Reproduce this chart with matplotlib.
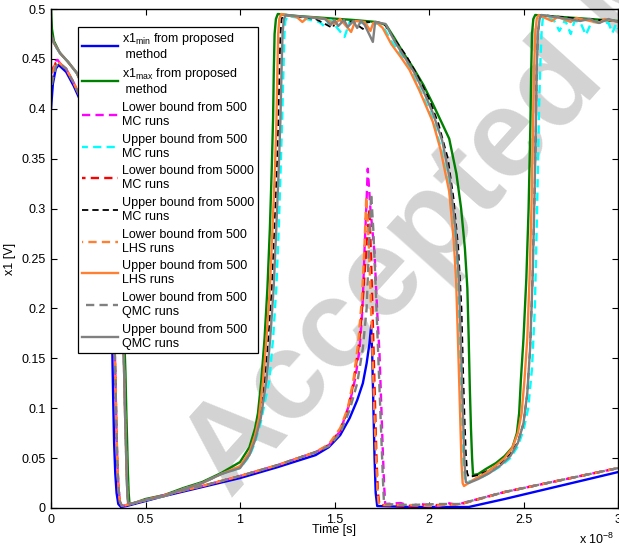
import matplotlib
matplotlib.use('Agg')
import matplotlib.pyplot as plt
from matplotlib.ticker import FixedLocator, FixedFormatter

plt.rcParams['font.family'] = ['Liberation Sans', 'DejaVu Sans']
plt.rcParams['mathtext.default'] = 'regular'
plt.rcParams['font.size'] = 9

# time in units of 1e-8 s, voltage in V
# --- lower curves ---
blue_t = [0, 0.01, 0.025, 0.04, 0.08, 0.12, 0.17, 0.21, 0.24, 0.265, 0.285, 0.30, 0.31, 0.317,
          0.322, 0.326, 0.330, 0.334, 0.340, 0.347, 0.356, 0.37, 0.40, 0.6, 0.8, 1.0, 1.2, 1.4,
          1.47, 1.53, 1.58, 1.62, 1.65, 1.67, 1.685, 1.694, 1.700, 1.706, 1.712, 1.718, 1.726,
          1.9, 2.1, 2.21, 2.4, 2.6, 2.8, 3.0]
blue_v = [0.40, 0.425, 0.440, 0.444, 0.437, 0.423, 0.402, 0.380, 0.358, 0.336, 0.310, 0.285, 0.262,
          0.230, 0.190, 0.140, 0.100, 0.065, 0.035, 0.015, 0.004, 0.001, 0.002, 0.012, 0.021, 0.030,
          0.041, 0.053, 0.061, 0.073, 0.090, 0.108, 0.125, 0.145, 0.165, 0.183, 0.150, 0.100, 0.050,
          0.015, 0.002, 0.001, 0.001, 0.001, 0.009, 0.018, 0.027, 0.036]

# shared first cycle of the MC/LHS/QMC lower bounds (after the first few points)
low_head_t = [0.05, 0.08, 0.12, 0.17, 0.21, 0.24, 0.265, 0.285, 0.30, 0.315, 0.325, 0.332, 0.337,
              0.342, 0.346, 0.351, 0.357, 0.365, 0.375, 0.40, 0.6, 0.8, 1.0, 1.2, 1.4]
low_head_v = [0.445, 0.440, 0.426, 0.405, 0.383, 0.362, 0.340, 0.316, 0.292, 0.265, 0.235, 0.200,
              0.160, 0.120, 0.080, 0.045, 0.020, 0.006, 0.002, 0.003, 0.013, 0.022, 0.032, 0.043, 0.056]
low_tail_t = [2.4, 2.6, 2.8, 3.0]
low_tail_v = [0.016, 0.024, 0.032, 0.040]

mc500_lo_t = [0, 0.01, 0.025, 0.035] + low_head_t + [1.47, 1.53, 1.58, 1.61, 1.632, 1.648, 1.659, 1.668,
              1.676, 1.69, 1.712, 1.725, 1.738, 1.748, 1.755, 1.762, 1.768, 1.85, 1.9, 1.95, 2.05,
              2.1, 2.15, 2.18] + low_tail_t
mc500_lo_v = [0.435, 0.440, 0.448, 0.449] + low_head_v + [0.063, 0.077, 0.105, 0.130, 0.158, 0.200, 0.259,
              0.300, 0.340, 0.300, 0.255, 0.200, 0.155, 0.100, 0.060, 0.025, 0.004, 0.005, 0.002,
              0.004, 0.002, 0.005, 0.003, 0.005] + low_tail_v

mc5000_lo_t = [0, 0.01, 0.025, 0.035] + low_head_t + [1.47, 1.53, 1.57, 1.60, 1.63, 1.65, 1.665, 1.685,
               1.695, 1.705, 1.715, 1.722, 1.73, 1.738, 1.9, 2.05, 2.17] + low_tail_t
mc5000_lo_v = [0.430, 0.438, 0.446, 0.447] + low_head_v + [0.063, 0.078, 0.098, 0.125, 0.165, 0.210,
               0.250, 0.300, 0.240, 0.170, 0.100, 0.050, 0.015, 0.003, 0.002, 0.003, 0.004] + low_tail_v

lhs_lo_t = [0, 0.01, 0.025, 0.035] + low_head_t + [1.47, 1.53, 1.57, 1.60, 1.625, 1.645, 1.658, 1.668,
            1.68, 1.69, 1.70, 1.71, 1.72, 1.728, 1.735, 1.9, 2.0, 2.17] + low_tail_t
lhs_lo_v = [0.430, 0.437, 0.446, 0.447] + low_head_v + [0.064, 0.080, 0.100, 0.128, 0.165, 0.210, 0.260,
            0.312, 0.270, 0.220, 0.160, 0.100, 0.050, 0.015, 0.003, 0.003, 0.002, 0.004] + low_tail_v

qmc_lo_t = [0, 0.01, 0.025, 0.035] + low_head_t + [1.47, 1.53, 1.58, 1.62, 1.65, 1.67, 1.682, 1.694,
            1.705, 1.716, 1.728, 1.74, 1.75, 1.757, 1.762, 1.9, 2.05, 2.16] + low_tail_t
qmc_lo_v = [0.420, 0.430, 0.442, 0.445] + low_head_v + [0.062, 0.075, 0.098, 0.125, 0.160, 0.200, 0.260,
            0.315, 0.280, 0.230, 0.170, 0.110, 0.060, 0.025, 0.004, 0.003, 0.004, 0.004] + low_tail_v

# --- upper curves ---
up_head_t = [0.047, 0.09, 0.136, 0.17, 0.206, 0.24, 0.276, 0.305, 0.329, 0.348, 0.364, 0.374, 0.382,
             0.387, 0.391, 0.396, 0.40, 0.404, 0.408, 0.42, 0.5, 0.6, 0.7, 0.8, 0.9]
up_head_v = [0.456, 0.447, 0.436, 0.422, 0.402, 0.380, 0.352, 0.325, 0.300, 0.268, 0.235, 0.200, 0.168,
             0.135, 0.100, 0.065, 0.035, 0.015, 0.005, 0.004, 0.008, 0.012, 0.019, 0.025, 0.034]

green_t = [0, 0.005, 0.015] + [0.047, 0.09, 0.136, 0.17, 0.206, 0.24, 0.276, 0.305, 0.332, 0.352, 0.369,
           0.380, 0.388, 0.394, 0.398, 0.403, 0.407, 0.411, 0.415, 0.425, 0.5, 0.6, 0.7, 0.8, 0.9] + [
           1.0, 1.05, 1.08, 1.095, 1.113, 1.13, 1.145, 1.158, 1.168, 1.175, 1.179, 1.183, 1.19, 1.2,
           1.3, 1.45, 1.6, 1.72, 1.773, 1.82, 1.861, 1.92, 1.97, 2.02, 2.07, 2.107, 2.145, 2.17, 2.19,
           2.203, 2.21, 2.216, 2.222, 2.228, 2.233, 2.26, 2.3, 2.354, 2.40, 2.442, 2.465, 2.477, 2.486,
           2.50, 2.515, 2.527, 2.536, 2.541, 2.545, 2.552, 2.562, 2.7, 2.85, 3.0]
green_v = [0.500, 0.480, 0.468] + [0.456, 0.447, 0.436, 0.422, 0.402, 0.380, 0.352, 0.325, 0.300, 0.268,
           0.235, 0.200, 0.168, 0.135, 0.100, 0.065, 0.035, 0.015, 0.005, 0.004, 0.009, 0.013, 0.020,
           0.026, 0.035] + [
           0.046, 0.061, 0.080, 0.095, 0.128, 0.170, 0.220, 0.280, 0.340, 0.390, 0.440, 0.475, 0.490,
           0.495, 0.493, 0.491, 0.489, 0.487, 0.484, 0.470, 0.457, 0.440, 0.424, 0.405, 0.385, 0.370,
           0.335, 0.300, 0.260, 0.220, 0.170, 0.120, 0.080, 0.050, 0.033, 0.034, 0.039, 0.045, 0.052,
           0.061, 0.075, 0.095, 0.128, 0.170, 0.230, 0.300, 0.380, 0.440, 0.475, 0.490, 0.494, 0.492,
           0.490, 0.488]

mc500_up_t = [0, 0.015] + up_head_t + [1.0, 1.05, 1.08, 1.11, 1.155, 1.175, 1.192, 1.205, 1.215, 1.223,
              1.23, 1.235, 1.24, 1.25, 1.35, 1.42, 1.45, 1.48, 1.553, 1.58, 1.65, 1.75, 1.80, 1.85, 1.90,
              1.95, 2.02, 2.06, 2.107, 2.135, 2.15, 2.16, 2.168, 2.175, 2.182, 2.19, 2.20, 2.26, 2.32,
              2.38, 2.43, 2.47, 2.50, 2.525, 2.545, 2.56, 2.572, 2.582, 2.59, 2.596, 2.602, 2.62, 2.66,
              2.69, 2.72, 2.75, 2.77, 2.80, 2.83, 2.86, 2.95, 2.97, 2.99, 3.0]
mc500_up_v = [0.472, 0.465] + up_head_v + [0.040, 0.052, 0.066, 0.086, 0.128, 0.170, 0.220, 0.280, 0.340,
              0.390, 0.440, 0.475, 0.488, 0.493, 0.490, 0.487, 0.482, 0.489, 0.472, 0.487, 0.486, 0.485,
              0.468, 0.455, 0.440, 0.420, 0.390, 0.363, 0.322, 0.270, 0.230, 0.170, 0.120, 0.080, 0.045,
              0.028, 0.026, 0.029, 0.035, 0.042, 0.050, 0.062, 0.078, 0.100, 0.140, 0.200, 0.300, 0.400,
              0.450, 0.478, 0.490, 0.492, 0.489, 0.478, 0.489, 0.475, 0.488, 0.487, 0.474, 0.487, 0.486,
              0.476, 0.485, 0.480]

mc5000_up_t = [0, 0.015] + up_head_t + [1.0, 1.05, 1.08, 1.10, 1.13, 1.15, 1.168, 1.182, 1.195, 1.203,
               1.209, 1.214, 1.22, 1.23, 1.4, 1.49, 1.51, 1.60, 1.65, 1.67, 1.76, 1.82, 1.88, 1.94, 2.0,
               2.05, 2.10, 2.13, 2.155, 2.172, 2.18, 2.188, 2.195, 2.202, 2.21, 2.26, 2.32, 2.38, 2.43,
               2.47, 2.50, 2.52, 2.535, 2.548, 2.558, 2.565, 2.57, 2.576, 2.585, 2.595, 2.8, 3.0]
mc5000_up_v = [0.474, 0.466] + up_head_v + [0.041, 0.055, 0.071, 0.088, 0.128, 0.170, 0.220, 0.280, 0.340,
               0.390, 0.440, 0.475, 0.490, 0.494, 0.490, 0.481, 0.489, 0.487, 0.480, 0.487, 0.486, 0.469,
               0.453, 0.433, 0.410, 0.385, 0.350, 0.310, 0.260, 0.200, 0.140, 0.090, 0.055, 0.035, 0.031,
               0.033, 0.038, 0.045, 0.054, 0.066, 0.085, 0.115, 0.160, 0.230, 0.310, 0.380, 0.440, 0.475,
               0.490, 0.494, 0.490, 0.488]

lhs_up_t = [0, 0.015] + up_head_t + [1.0, 1.05, 1.08, 1.10, 1.122, 1.14, 1.158, 1.172, 1.185, 1.193,
            1.198, 1.202, 1.208, 1.218, 1.30, 1.33, 1.36, 1.45, 1.50, 1.53, 1.588, 1.61, 1.66, 1.69,
            1.705, 1.72, 1.755, 1.80, 1.85, 1.897, 1.95, 2.02, 2.06, 2.107, 2.13, 2.143, 2.153, 2.16,
            2.166, 2.172, 2.178, 2.185, 2.25, 2.30, 2.35, 2.40, 2.44, 2.47, 2.49, 2.505, 2.52, 2.532,
            2.542, 2.55, 2.556, 2.562, 2.57, 2.58, 2.65, 2.68, 2.75, 2.78, 2.9, 2.93, 3.0]
lhs_up_v = [0.474, 0.466] + up_head_v + [0.042, 0.056, 0.073, 0.090, 0.128, 0.170, 0.220, 0.280, 0.340,
            0.390, 0.440, 0.475, 0.490, 0.495, 0.492, 0.487, 0.492, 0.490, 0.485, 0.490, 0.477, 0.488,
            0.487, 0.478, 0.486, 0.487, 0.481, 0.465, 0.452, 0.439, 0.418, 0.387, 0.360, 0.317, 0.270,
            0.230, 0.170, 0.125, 0.085, 0.045, 0.025, 0.022, 0.030, 0.035, 0.042, 0.050, 0.060, 0.075,
            0.095, 0.128, 0.170, 0.230, 0.300, 0.380, 0.440, 0.475, 0.490, 0.494, 0.488, 0.492, 0.487,
            0.491, 0.486, 0.490, 0.487]

qmc_up_t = [0, 0.015] + up_head_t + [1.0, 1.05, 1.08, 1.11, 1.14, 1.16, 1.178, 1.192, 1.205, 1.214,
            1.22, 1.225, 1.232, 1.242, 1.35, 1.45, 1.48, 1.50, 1.52, 1.55, 1.57, 1.60, 1.62, 1.64, 1.66,
            1.703, 1.715, 1.77, 1.82, 1.87, 1.92, 1.97, 2.02, 2.07, 2.11, 2.14, 2.158, 2.168, 2.175,
            2.182, 2.188, 2.195, 2.21, 2.26, 2.32, 2.38, 2.43, 2.47, 2.50, 2.52, 2.535, 2.548, 2.558,
            2.565, 2.57, 2.576, 2.585, 2.595, 2.7, 2.8, 2.85, 2.9, 2.95, 3.0]
qmc_up_v = [0.475, 0.466] + up_head_v + [0.040, 0.053, 0.068, 0.090, 0.128, 0.170, 0.220, 0.280, 0.340,
            0.390, 0.440, 0.475, 0.490, 0.494, 0.492, 0.490, 0.484, 0.489, 0.483, 0.489, 0.482, 0.488,
            0.481, 0.488, 0.484, 0.467, 0.487, 0.485, 0.467, 0.452, 0.437, 0.418, 0.396, 0.368, 0.330,
            0.280, 0.230, 0.170, 0.120, 0.080, 0.045, 0.026, 0.025, 0.029, 0.035, 0.043, 0.052, 0.065,
            0.085, 0.115, 0.160, 0.230, 0.310, 0.380, 0.440, 0.475, 0.490, 0.494, 0.491, 0.488, 0.490,
            0.486, 0.490, 0.487]

xticks = [0, 0.5, 1, 1.5, 2, 2.5, 3]
xticklabels = ['0', '0.5', '1', '1.5', '2', '2.5', '3']
yticks = [0, 0.05, 0.1, 0.15, 0.2, 0.25, 0.3, 0.35, 0.4, 0.45, 0.5]
yticklabels = ['0', '0.05', '0.1', '0.15', '0.2', '0.25', '0.3', '0.35', '0.4', '0.45', '0.5']

fig = plt.figure(figsize=(6.19, 5.46), dpi=100)
ax = fig.add_axes([51/619, 38/546, 567/619, 499/546])

# watermark, behind the curves
ax.text(0.372, 0.085, 'Accepted Manuscript', transform=fig.transFigure, rotation=48,
        rotation_mode='anchor', ha='left', va='baseline', fontsize=90, fontweight='bold',
        color='#d3d3d3', zorder=0, clip_on=False)

lw = 1.7
dash = (3.5, 2.2)
ax.plot(blue_t, blue_v, color='#0000ff', lw=lw, label='x1$_{min}$ from proposed\n method')
ax.plot(green_t, green_v, color='#008000', lw=lw, label='x1$_{max}$ from proposed\n method')
ax.plot(mc500_lo_t, mc500_lo_v, color='#ff00ff', lw=lw, ls=(0, dash), label='Lower bound from 500\nMC runs')
ax.plot(mc500_up_t, mc500_up_v, color='#00ffff', lw=lw, ls=(1, dash), label='Upper bound from 500\nMC runs')
ax.plot(mc5000_lo_t, mc5000_lo_v, color='#ff0000', lw=lw, ls=(2, dash), label='Lower bound from 5000\nMC runs')
ax.plot(mc5000_up_t, mc5000_up_v, color='#000000', lw=1.3, ls=(0, dash), label='Upper bound from 5000\nMC runs')
ax.plot(lhs_lo_t, lhs_lo_v, color='#ff8033', lw=lw, ls=(3, dash), label='Lower bound from 500\nLHS runs')
ax.plot(lhs_up_t, lhs_up_v, color='#ff8033', lw=lw, label='Upper bound from 500\nLHS runs')
ax.plot(qmc_lo_t, qmc_lo_v, color='#808080', lw=lw, ls=(4, dash), label='Lower bound from 500\nQMC runs')
ax.plot(qmc_up_t, qmc_up_v, color='#808080', lw=lw, label='Upper bound from 500\nQMC runs')

ax.set_xlim(0, 3)
ax.set_ylim(0, 0.5)
ax.xaxis.set_major_locator(FixedLocator(xticks))
ax.xaxis.set_major_formatter(FixedFormatter(xticklabels))
ax.yaxis.set_major_locator(FixedLocator(yticks))
ax.yaxis.set_major_formatter(FixedFormatter(yticklabels))
ax.tick_params(direction='in', top=True, right=True, length=4, width=0.8, labelsize=9, pad=4)
for s in ax.spines.values():
    s.set_linewidth(1.0)

ax.set_xlabel('Time [s]', fontsize=9, labelpad=-1)
ax.set_ylabel('x1 [V]', fontsize=9, labelpad=4)
fig.text(0.992, -0.002, 'x 10$^{-8}$', ha='right', va='bottom', fontsize=9)

leg = ax.legend(loc='upper left', bbox_to_anchor=(0.0476, 0.964), borderaxespad=0,
                fancybox=False, edgecolor='black', framealpha=1, fontsize=9,
                handlelength=2.9, handletextpad=0.3, labelspacing=0.47, borderpad=0.3)
leg.get_frame().set_linewidth(0.9)
leg.set_zorder(5)

fig.savefig('out.png', dpi=100)
